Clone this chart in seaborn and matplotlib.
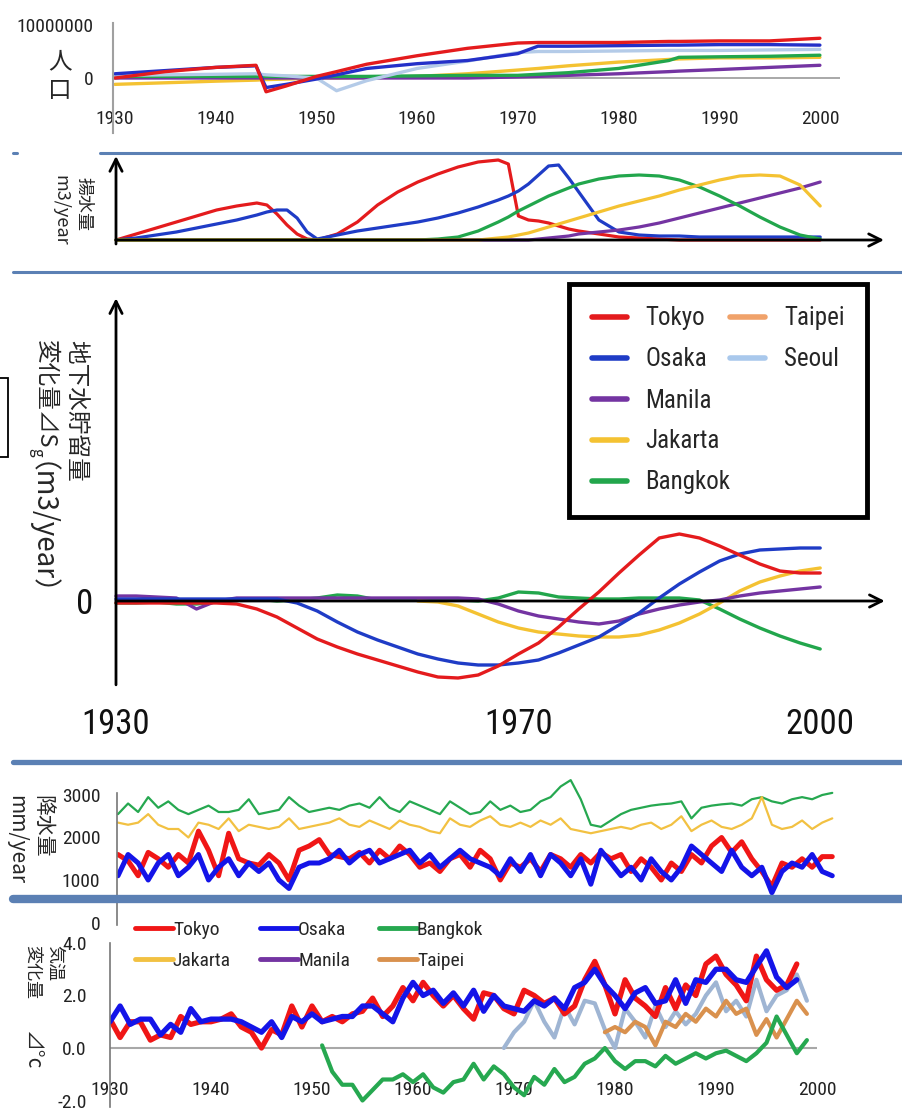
import pandas as pd
import seaborn as sns
import matplotlib.pyplot as plt
from matplotlib.lines import Line2D
from matplotlib.patches import Rectangle
from matplotlib import font_manager

sns.set_style('white')

installed = {f.name for f in font_manager.fontManager.ttflist}
latin = next(f for f in ['Liberation Sans Narrow', 'Roboto Condensed', 'Lato', 'DejaVu Sans']
             if f in installed)
cjk = ['Noto Sans CJK JP', 'DejaVu Sans']
plt.rcParams['font.family'] = [latin, 'Noto Sans CJK JP', 'DejaVu Sans']

# ---------------- data ----------------
# population (millions)
pop_years = [1930, 1935, 1940, 1944, 1945, 1947, 1950, 1952, 1955, 1960,
             1965, 1970, 1972, 1975, 1980, 1985, 1986, 1990, 1995, 2000]
pop_tokyo = [0.0, 1.2, 2.0, 2.4, -2.6, -1.5, 0.3, 1.2, 2.6, 4.2, 5.6, 6.6, 6.7, 6.7, 6.7, 6.9, 6.9, 7.0, 7.0, 7.5]
pop_osaka = [0.8, 1.4, 2.0, 2.3, -1.8, -1.2, -0.2, 0.6, 1.8, 2.7, 3.3, 4.6, 6.0, 6.0, 6.1, 6.2, 6.2, 6.3, 6.3, 6.2]
pop_seoul = [0.5, 0.6, 0.7, 0.8, 0.6, 0.4, 0.0, -2.4, -0.5, 1.8, 3.2, 4.8, 5.0, 5.0, 5.1, 5.2, 5.2, 5.2, 5.3, 5.4]
pop_bangkok = [0.3, 0.3, 0.3, 0.3, 0.3, 0.3, 0.3, 0.3, 0.3, 0.4, 0.5, 0.5, 0.7, 1.0, 1.8, 3.3, 3.9, 4.0, 4.1, 4.3]
pop_jakarta = [-1.2, -0.9, -0.6, -0.4, -0.3, -0.2, 0.0, 0.0, 0.1, 0.3, 0.8, 1.5, 1.8, 2.3, 3.0, 3.5, 3.6, 3.8, 3.8, 3.9]
pop_manila = [0.0, 0.0, 0.0, 0.0, 0.0, 0.0, 0.0, 0.0, 0.0, 0.0, 0.0, 0.2, 0.3, 0.5, 0.8, 1.2, 1.3, 1.6, 2.0, 2.4]

# pumping (relative units)
pump_years = [1930, 1932, 1934, 1936, 1938, 1940, 1942, 1944, 1945, 1946, 1947, 1948, 1949,
              1950, 1952, 1954, 1956, 1958, 1960, 1962, 1964, 1966, 1968, 1969, 1970, 1971,
              1972, 1973, 1974, 1975, 1976, 1978, 1980, 1982, 1984, 1986, 1988, 1990, 1992,
              1994, 1996, 1998, 2000]
pump_tokyo = [0.0, 0.6, 1.2, 1.8, 2.4, 3.0, 3.4, 3.7, 3.5, 2.6, 1.5, 0.6, 0.1,
              0.0, 0.6, 1.8, 3.5, 4.8, 5.8, 6.6, 7.3, 7.8, 8.0, 7.6, 2.4, 2.0,
              1.9, 1.7, 1.4, 1.1, 0.9, 0.6, 0.3, 0.2, 0.1, 0.0, 0.0, 0.0, 0.0,
              0.0, 0.0, 0.0, 0.0]
pump_osaka = [0.0, 0.2, 0.5, 0.8, 1.2, 1.6, 2.0, 2.5, 2.8, 3.0, 3.0, 2.2, 0.8,
              0.1, 0.5, 0.9, 1.2, 1.5, 1.8, 2.2, 2.7, 3.3, 4.0, 4.4, 4.9, 5.6,
              6.5, 7.4, 7.5, 6.2, 4.8, 2.0, 0.8, 0.5, 0.4, 0.4, 0.3, 0.3, 0.3,
              0.3, 0.3, 0.3, 0.3]
pump_bangkok = [0.0, 0.0, 0.0, 0.0, 0.0, 0.0, 0.0, 0.0, 0.0, 0.0, 0.0, 0.0, 0.0,
                0.0, 0.0, 0.0, 0.0, 0.0, 0.0, 0.1, 0.3, 0.9, 1.8, 2.3, 2.9, 3.4,
                3.9, 4.4, 4.8, 5.2, 5.6, 6.1, 6.4, 6.5, 6.4, 6.0, 5.3, 4.4, 3.4,
                2.3, 1.3, 0.5, 0.1]
pump_jakarta = [0.0, 0.0, 0.0, 0.0, 0.0, 0.0, 0.0, 0.0, 0.0, 0.0, 0.0, 0.0, 0.0,
                0.0, 0.0, 0.0, 0.0, 0.0, 0.0, 0.0, 0.0, 0.0, 0.2, 0.3, 0.5, 0.7,
                1.0, 1.3, 1.6, 1.9, 2.2, 2.8, 3.4, 3.9, 4.4, 5.0, 5.5, 6.0, 6.4,
                6.5, 6.4, 5.5, 3.4]
pump_manila = [0.0, 0.0, 0.0, 0.0, 0.0, 0.0, 0.0, 0.0, 0.0, 0.0, 0.0, 0.0, 0.0,
               0.0, 0.0, 0.0, 0.0, 0.0, 0.0, 0.0, 0.0, 0.0, 0.0, 0.0, 0.0, 0.0,
               0.1, 0.2, 0.3, 0.4, 0.6, 0.8, 1.0, 1.3, 1.7, 2.2, 2.7, 3.2, 3.7,
               4.2, 4.7, 5.2, 5.8]

# groundwater storage change (relative units)
gw_years = list(range(1930, 2001, 2))
gw_tokyo = [-0.2, -0.2, -0.2, -0.2, -0.2, -0.2, -0.3, -0.8, -1.6, -2.7, -3.8, -4.6,
            -5.3, -5.9, -6.5, -7.1, -7.6, -7.7, -7.4, -6.5, -5.3, -4.2, -2.6, -0.8,
            0.9, 2.8, 4.6, 6.3, 6.7, 6.3, 5.5, 4.6, 3.7, 3.0, 2.8, 2.8]
gw_osaka = [0.2, 0.2, 0.2, 0.2, 0.2, 0.2, 0.2, 0.2, 0.2, -0.2, -1.0, -2.1,
            -3.1, -3.9, -4.6, -5.3, -5.8, -6.2, -6.4, -6.4, -6.2, -5.9, -5.2, -4.4,
            -3.6, -2.4, -1.2, 0.3, 1.7, 2.9, 4.0, 4.7, 5.1, 5.2, 5.3, 5.3]
gw_manila = [0.5, 0.5, 0.4, 0.3, -0.8, 0.0, 0.3, 0.3, 0.3, 0.3, 0.3, 0.3,
             0.3, 0.3, 0.3, 0.3, 0.3, 0.3, 0.2, -0.3, -1.0, -1.5, -1.8, -2.1,
             -2.3, -2.0, -1.3, -0.8, -0.4, -0.1, 0.1, 0.5, 0.8, 1.0, 1.2, 1.4]
gw_jakarta_years = list(range(1960, 2001, 2))
gw_jakarta = [0.0, -0.1, -0.5, -1.3, -2.1, -2.7, -3.1, -3.3, -3.5, -3.6, -3.6,
              -3.4, -2.9, -2.2, -1.3, -0.2, 1.0, 1.9, 2.5, 3.0, 3.3]
gw_bangkok = [-0.2, -0.2, -0.1, -0.3, -0.3, -0.1, 0.1, 0.2, 0.0, 0.1, 0.3, 0.6,
              0.5, 0.1, 0.1, 0.2, 0.2, 0.1, 0.0, 0.3, 0.9, 0.8, 0.4, 0.3,
              0.2, 0.2, 0.3, 0.3, 0.3, 0.1, -0.8, -1.8, -2.7, -3.5, -4.2, -4.8]

# precipitation (mm/year)
rain_years = list(range(1930, 2002))
rain_tokyo = [1600, 1450, 1100, 1650, 1500, 1300, 1600, 1400, 2150, 1700, 1100, 2100,
              1500, 1400, 1350, 1600, 1400, 1000, 1700, 1800, 1950, 1600, 1550, 1500,
              1650, 1400, 1700, 1500, 1800, 1600, 1300, 1400, 1200, 1500, 1600, 1300,
              1700, 1500, 1000, 1400, 1300, 1500, 1200, 1600, 1500, 1300, 1600, 1400,
              1650, 1500, 1600, 1200, 1500, 1300, 1000, 1400, 1200, 1600, 1400, 1800,
              2000, 1650, 1900, 1500, 1200, 850, 1400, 1300, 1500, 1300, 1550, 1550]
rain_osaka = [1100, 1600, 1400, 1000, 1400, 1600, 1100, 1300, 1600, 1000, 1300, 1500,
              1100, 1400, 1200, 1400, 1000, 800, 1300, 1400, 1400, 1500, 1700, 1400,
              1600, 1700, 1400, 1500, 1600, 1700, 1400, 1600, 1300, 1500, 1700, 1500,
              1400, 1300, 1100, 1500, 1200, 1600, 1100, 1600, 1400, 1100, 1500, 900,
              1700, 1400, 1100, 1300, 1000, 1500, 1200, 1000, 1300, 1800, 1600, 1400,
              1200, 1700, 1300, 1100, 1300, 700, 1200, 1400, 1300, 1600, 1200, 1100]
rain_bangkok = [2550, 2800, 2600, 2950, 2700, 2850, 2650, 2550, 2650, 2750, 2600, 2600,
                2650, 2900, 2550, 2600, 2650, 2950, 2750, 2600, 2650, 2700, 2650, 2750,
                2800, 2700, 2950, 2700, 2600, 2850, 2750, 2650, 2550, 2850, 2700, 2550,
                2600, 2850, 2650, 2750, 2600, 2650, 2850, 2950, 3200, 3350, 2900, 2300,
                2250, 2400, 2550, 2650, 2700, 2750, 2780, 2800, 2850, 2450, 2700, 2750,
                2780, 2800, 2750, 2900, 2950, 2850, 2800, 2900, 2950, 2900, 3000, 3050]
rain_jakarta = [2350, 2300, 2350, 2550, 2300, 2200, 2200, 2000, 2350, 2300, 2200, 2450,
                2150, 2300, 2250, 2200, 2250, 2450, 2200, 2250, 2300, 2350, 2450, 2300,
                2250, 2400, 2300, 2200, 2400, 2300, 2250, 2150, 2100, 2450, 2300, 2250,
                2400, 2500, 2300, 2250, 2350, 2250, 2400, 2300, 2450, 2200, 2150, 2100,
                2150, 2200, 2250, 2200, 2300, 2350, 2200, 2300, 2500, 2150, 2300, 2400,
                2250, 2200, 2300, 2450, 2950, 2300, 2200, 2250, 2400, 2200, 2350, 2450]

# temperature change (deg C)
temp_years = list(range(1930, 1999))
temp_tokyo = [1.1, 0.4, 1.0, 1.0, 0.3, 0.5, 0.4, 1.2, 0.9, 1.0, 1.0, 1.1, 1.3, 0.8,
              0.6, 0.0, 0.7, 0.5, 1.6, 0.8, 1.6, 1.0, 1.2, 1.0, 1.3, 1.4, 1.9, 1.2,
              1.6, 2.3, 1.8, 2.5, 2.0, 1.6, 2.0, 1.5, 1.1, 2.1, 2.0, 1.5, 1.3, 2.2,
              2.0, 1.7, 1.9, 1.3, 1.6, 2.6, 3.3, 2.4, 1.3, 2.6, 1.9, 1.6, 1.2, 2.3,
              1.5, 2.4, 2.0, 3.2, 3.5, 2.8, 2.4, 1.8, 3.5, 2.6, 2.2, 2.4, 3.2]
temp_osaka = [1.0, 1.6, 0.9, 1.1, 1.1, 0.5, 0.9, 0.6, 1.5, 1.0, 1.1, 1.1, 1.1, 1.0,
              0.8, 0.6, 1.0, 0.4, 1.2, 1.0, 1.3, 1.0, 1.1, 1.2, 1.2, 1.6, 1.6, 1.3,
              1.0, 1.9, 2.5, 2.0, 2.2, 1.7, 2.1, 1.6, 2.2, 1.4, 2.0, 1.6, 1.5, 1.4,
              1.8, 1.6, 1.9, 1.5, 2.3, 2.5, 3.0, 2.4, 2.0, 1.5, 2.1, 2.3, 1.7, 1.8,
              2.6, 1.7, 2.6, 2.5, 3.0, 3.0, 2.6, 2.5, 3.1, 3.7, 2.7, 2.3, 2.6]
temp_bkk_years = list(range(1951, 2000))
temp_bangkok = [0.1, -0.9, -1.4, -1.4, -2.0, -1.6, -1.2, -1.2, -1.0, -1.3, -1.0, -1.5,
                -1.7, -1.3, -1.2, -0.6, -1.2, -0.7, -1.0, -1.5, -1.8, -1.1, -1.4, -0.8,
                -1.3, -1.1, -0.6, -0.4, 0.0, -0.5, -0.8, -0.5, -0.5, -0.7, -0.3, -0.6,
                -0.4, -0.2, -0.4, -0.2, -0.1, -0.3, -0.5, -0.2, 0.2, 1.2, 0.5, -0.2, 0.3]
temp_seoul_years = list(range(1969, 2000))
temp_seoul = [0.0, 0.6, 1.0, 1.8, 1.0, 0.4, 1.6, 0.9, 1.8, 1.7, 0.7, 0.0, 1.5, 1.0,
              0.4, 1.6, 0.8, 1.4, 0.9, 1.3, 2.0, 2.5, 1.4, 1.8, 1.2, 2.6, 1.4, 2.0,
              2.2, 2.8, 1.8]
temp_taipei_years = list(range(1979, 2000))
temp_taipei = [0.6, 0.8, 0.6, 1.0, 0.8, 0.1, 1.0, 0.8, 1.3, 1.0, 1.5, 1.2, 1.8, 1.3,
               1.5, 0.5, 1.1, 0.4, 1.1, 1.8, 1.3]

legend_cities = ['Tokyo', 'Osaka', 'Manila', 'Jakarta', 'Bangkok', 'Taipei', 'Seoul']
colors = {'Tokyo': '#e41b1d', 'Osaka': '#1f3cc6', 'Manila': '#7434a2', 'Jakarta': '#f4c232',
          'Bangkok': '#22a64c', 'Taipei': '#f0a26a', 'Seoul': '#a9c8ec'}
colors_obs = {'Tokyo': '#f01616', 'Osaka': '#1414e8', 'Bangkok': '#26a850', 'Jakarta': '#f2c142',
              'Manila': '#7434a2', 'Taipei': '#d9914e', 'Seoul': '#9fb5d3'}


def long_df(parts):
    return pd.concat([pd.DataFrame({'year': y, 'value': v, 'city': c}) for c, y, v in parts],
                     ignore_index=True)


W, H = 902, 1113
fig = plt.figure(figsize=(W / 100, H / 100), dpi=100)


def add_panel(left, top, right, bottom, x0, ppy, y0, ppu):
    # axes placed in pixel box; 1930 sits at x0 px, value 0 at y0 px
    ax = fig.add_axes([left / W, 1 - bottom / H, (right - left) / W, (bottom - top) / H])
    ax.set_xlim(1930 + (left - x0) / ppy, 1930 + (right - x0) / ppy)
    ax.set_ylim((y0 - bottom) / ppu, (y0 - top) / ppu)
    ax.set_facecolor('none')
    for s in ax.spines.values():
        s.set_visible(False)
    return ax


def vtext(x, y, s, size, **kw):
    return fig.text(x / W, 1 - y / H, s, rotation=-90, ha='center', va='top',
                    fontsize=size, **kw)


arrow = dict(arrowstyle='->', lw=2, color='black', mutation_scale=22, shrinkA=0, shrinkB=0)

# ---------------- population ----------------
ax1 = add_panel(113, 20, 840, 106, 115, 10.07, 78, 5.3)
pop = long_df([('Jakarta', pop_years, pop_jakarta), ('Manila', pop_years, pop_manila),
               ('Bangkok', pop_years, pop_bangkok), ('Seoul', pop_years, pop_seoul),
               ('Osaka', pop_years, pop_osaka), ('Tokyo', pop_years, pop_tokyo)])
pal1 = dict(colors, Seoul='#b4cbe8', Osaka='#2430c8')
sns.lineplot(data=pop, x='year', y='value', hue='city', palette=pal1, ax=ax1,
             legend=False, linewidth=2.4, estimator=None, sort=False)
ax1.axhline(0, color='#a8a8a8', lw=1.4, zorder=0)
ax1.spines['left'].set_visible(True)
ax1.spines['left'].set_color('#a0a0a0')
ax1.spines['left'].set_linewidth(1.5)
ax1.spines['left'].set_bounds(-10.4, 10.4)
ax1.set_xticks(range(1930, 2001, 10))
ax1.set_yticks([0, 10], ['0', '10000000'])
ax1.tick_params(length=0, labelsize=14, colors='#222222')
ax1.tick_params(axis='x', pad=3)
ax1.tick_params(axis='y', pad=14)
ax1.set_xlabel('')
ax1.set_ylabel('')
fig.text(60 / W, 1 - 76 / H, '人\n口', ha='center', va='center', fontsize=17,
         linespacing=1.3, family=cjk)

# ---------------- pumping ----------------
ax2 = add_panel(110, 150, 895, 250, 116, 10.06, 240, 10)
pump = long_df([('Tokyo', pump_years, pump_tokyo), ('Osaka', pump_years, pump_osaka),
                ('Manila', pump_years, pump_manila), ('Bangkok', pump_years, pump_bangkok),
                ('Jakarta', pump_years, pump_jakarta)])
sns.lineplot(data=pump, x='year', y='value', hue='city', palette=colors, ax=ax2,
             legend=False, linewidth=2.3, estimator=None, sort=False)
ax2.set_xticks([])
ax2.set_yticks([])
ax2.set_xlabel('')
ax2.set_ylabel('')
ax2.annotate('', xy=(1930, 0.94), xytext=(1930, 0.06), xycoords=('data', 'axes fraction'),
             textcoords=('data', 'axes fraction'), arrowprops=arrow)
ax2.annotate('', xy=(0.986, 0), xytext=(1930, 0), xycoords=('axes fraction', 'data'),
             textcoords='data', arrowprops=arrow, annotation_clip=False)
vtext(84, 177, '揚水量', 13, family=cjk)
vtext(60, 175, 'm3/year', 13, family=cjk)

# ---------------- groundwater storage ----------------
ax3 = add_panel(110, 290, 895, 700, 116, 10.06, 601, 10)
gw = long_df([('Bangkok', gw_years, gw_bangkok), ('Jakarta', gw_jakarta_years, gw_jakarta),
              ('Manila', gw_years, gw_manila), ('Osaka', gw_years, gw_osaka),
              ('Tokyo', gw_years, gw_tokyo)])
sns.lineplot(data=gw, x='year', y='value', hue='city', palette=colors, ax=ax3,
             legend=False, linewidth=2.4, estimator=None, sort=False)
ax3.annotate('', xy=(1930, 0.98), xytext=(1930, 0.037), xycoords=('data', 'axes fraction'),
             textcoords=('data', 'axes fraction'), arrowprops=arrow)
ax3.annotate('', xy=(0.987, 0), xytext=(1930, 0), xycoords=('axes fraction', 'data'),
             textcoords='data', arrowprops=arrow, annotation_clip=False)
ax3.set_xticks([1930, 1970, 2000])
ax3.set_yticks([0])
ax3.tick_params(length=0, labelsize=25, colors='#111111')
ax3.tick_params(axis='x', pad=6)
ax3.tick_params(axis='y', pad=12)
ax3.set_xlabel('')
ax3.set_ylabel('')

handles = [Line2D([], [], color=colors[c], lw=4) for c in legend_cities]
labels = list(legend_cities)
for _ in range(3):
    handles.append(Line2D([], [], color='none'))
    labels.append('')
leg = ax3.legend(handles, labels, ncol=2,
                 loc='upper left', bbox_to_anchor=(569 / W, 1 - 284 / H),
                 bbox_transform=fig.transFigure, fontsize=18, frameon=True, fancybox=False,
                 edgecolor='black', framealpha=1, borderpad=0.9, borderaxespad=0,
                 handlelength=1.4, handletextpad=0.75, columnspacing=0.0, labelspacing=0.68)
leg.get_frame().set_linewidth(3.5)

vtext(76, 340, '地下水貯留量', 17, family=cjk)
p1 = vtext(45, 340, '変化量⊿S', 17, family=cjk)
fig.canvas.draw()
y_s = H - p1.get_window_extent().y0
p2 = vtext(37, y_s, 'g', 11, family=cjk)
fig.canvas.draw()
y_g = H - p2.get_window_extent().y0
vtext(26, y_g + 4, '（m3/year）', 20, family=cjk)

# ---------------- precipitation ----------------
ax4 = add_panel(117, 775, 890, 925, 118, 10.06, 922.5, 0.0425)
rain = long_df([('Bangkok', rain_years, rain_bangkok), ('Jakarta', rain_years, rain_jakarta),
                ('Tokyo', rain_years, rain_tokyo), ('Osaka', rain_years, rain_osaka)])
sns.lineplot(data=rain, x='year', y='value', hue='city', palette=colors_obs, ax=ax4,
             size='city', sizes={'Bangkok': 1.6, 'Jakarta': 1.6, 'Tokyo': 3.6, 'Osaka': 3.6},
             legend=False, estimator=None, sort=False)
ax4.spines['left'].set_visible(True)
ax4.spines['left'].set_color('#777777')
ax4.spines['left'].set_linewidth(1.2)
ax4.spines['left'].set_bounds(-60, 3050)
ax4.set_xticks([])
ax4.set_yticks([0, 1000, 2000, 3000])
ax4.tick_params(length=0, labelsize=14, colors='#222222', pad=12)
ax4.set_xlabel('')
ax4.set_ylabel('')
vtext(42, 795, '降水量', 15, family=cjk)
vtext(16, 795, 'mm/year', 15, family=cjk)

# ---------------- temperature ----------------
ax5 = add_panel(110, 928, 890, 1107, 110, 10.1, 1048, 26.25)
temp = long_df([('Seoul', temp_seoul_years, temp_seoul), ('Taipei', temp_taipei_years, temp_taipei),
                ('Bangkok', temp_bkk_years, temp_bangkok), ('Tokyo', temp_years, temp_tokyo),
                ('Osaka', temp_years, temp_osaka)])
sns.lineplot(data=temp, x='year', y='value', hue='city', palette=colors_obs, ax=ax5,
             size='city', sizes={'Seoul': 3.0, 'Taipei': 3.0, 'Bangkok': 3.0, 'Tokyo': 3.8,
                                 'Osaka': 3.8},
             legend=False, estimator=None, sort=False)
ax5.hlines(0, temp_years[0], 2000, color='#a8a8a8', lw=1.5, zorder=0)
ax5.spines['left'].set_visible(True)
ax5.spines['left'].set_color('#777777')
ax5.spines['left'].set_linewidth(1.2)
ax5.spines['left'].set_bounds(-2.25, 4.0)
ax5.set_xticks(range(1930, 2001, 10))
ax5.set_yticks([-2, 0, 2, 4], ['-2.0', '0.0', '2.0', '4.0'])
ax5.tick_params(length=0, labelsize=14, colors='#222222')
ax5.tick_params(axis='x', pad=-19)
ax5.tick_params(axis='y', pad=17)
ax5.set_xlabel('')
ax5.set_ylabel('')
t_order = ['Tokyo', 'Jakarta', 'Osaka', 'Manila', 'Bangkok', 'Taipei']
ax5.legend([Line2D([], [], color=colors_obs[c], lw=3.5) for c in t_order], t_order, ncol=3,
           loc='upper left', bbox_to_anchor=(135 / W, 1 - 921 / H), bbox_transform=fig.transFigure,
           fontsize=14, frameon=False, borderpad=0, borderaxespad=0, handlelength=1.95,
           handletextpad=0, columnspacing=1.5, labelspacing=0.65)
vtext(55, 945, '気温', 13, family=cjk)
vtext(32, 945, '変化量', 13, family=cjk)
vtext(32, 1030, '⊿°c', 15, family=cjk)

# ---------------- separators and frame bits ----------------
band = '#5b80b4'
for y, x0, lw in [(153, 100, 2.2), (272, 13, 2.2), (762, 13, 3.8), (899, 13, 6.0)]:
    fig.add_artist(Line2D([x0 / W, 1], [1 - y / H, 1 - y / H], color=band, lw=lw,
                          transform=fig.transFigure))
fig.add_artist(Line2D([13 / W, 17 / W], [1 - 153 / H, 1 - 153 / H], color=band, lw=2.2,
                      transform=fig.transFigure))
fig.add_artist(Rectangle((-2 / W, 1 - 457 / H), 10 / W, 79 / H, fill=False, edgecolor='black',
                         lw=1.3, transform=fig.transFigure))

fig.savefig('out.png', dpi=100)
